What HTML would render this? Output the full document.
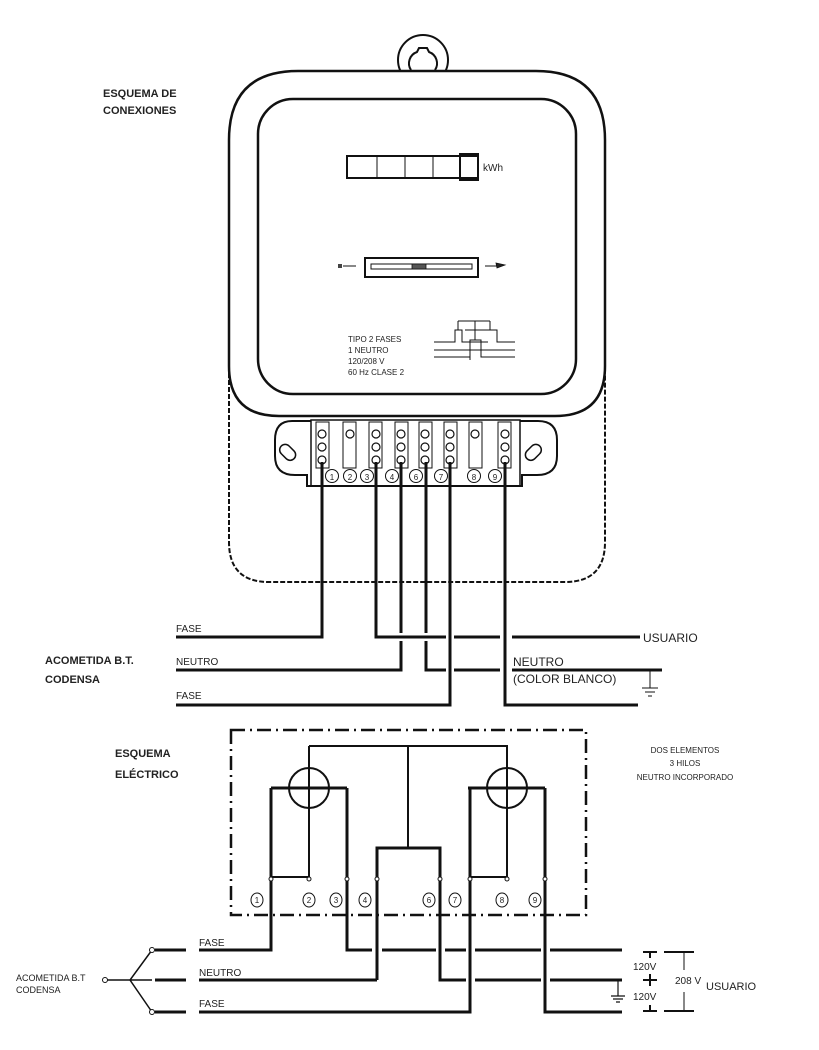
<!DOCTYPE html>
<html><head><meta charset="utf-8"><style>
html,body{margin:0;padding:0;background:#fff}
svg{display:block}
text{font-family:"Liberation Sans",sans-serif;fill:#222}
</style></head><body>
<svg width="819" height="1050" viewBox="0 0 819 1050" xmlns="http://www.w3.org/2000/svg">
<g fill="none" stroke="#111">
<circle cx="423" cy="60" r="25" stroke-width="2"/>
<path d="M411 70 A12 12 0 0 1 417 52 L419 48 L427 48 L429 52 A12 12 0 0 1 435 70" stroke-width="2"/>
<path d="M229 360 L229 140 Q229 71 298 71 L536 71 Q605 71 605 140 L605 360" stroke-width="2.5" fill="#fff"/>
<path d="M229 360 L229 366 Q229 416 279 416 L555 416 Q605 416 605 366 L605 360" stroke-width="2.5"/>
<path d="M229 366 L229 542 Q229 582 269 582 L565 582 Q605 582 605 542 L605 366" stroke-width="2" stroke-dasharray="5 2"/>
<rect x="258" y="99" width="318" height="295" rx="35" stroke-width="2.5"/>
<rect x="347" y="156" width="131" height="22" stroke-width="2"/>
<line x1="377" y1="156" x2="377" y2="178" stroke-width="1"/>
<line x1="405" y1="156" x2="405" y2="178" stroke-width="1"/>
<line x1="433" y1="156" x2="433" y2="178" stroke-width="1"/>
<rect x="460" y="154" width="18" height="26" stroke-width="2"/>
<rect x="365" y="258" width="113" height="19" stroke-width="2"/>
<rect x="371" y="264" width="101" height="5" stroke-width="1"/>
<rect x="412" y="264" width="14" height="5" fill="#555" stroke-width="0.8"/>
<rect x="338" y="264" width="4" height="4" fill="#444" stroke="none"/>
<line x1="343" y1="266" x2="356" y2="266" stroke-width="1"/>
<line x1="485" y1="266" x2="500" y2="266" stroke-width="1"/>
<path d="M496 263 L505 265 L497 268 Z" fill="#222" stroke-width="0.8"/>
<g stroke-width="1">
<path d="M434 342 L455 342 L455 330 L462 330 L462 342 L488 342 M465 330 L497 330 L497 342 L515 342"/>
<path d="M458 321 L490 321 M458 321 L458 330 M490 321 L490 330 M475 321 L475 340"/>
<path d="M434 350 L515 350 M434 357 L470 357 L470 340 L481 340 L481 357 L515 357 M470 340 L470 360"/>
</g>
<path d="M311 421 L292 421 Q275 421 275 440 L275 456 Q275 475 295 475 L307 475 L307 486 L522 486 L522 475 L537 475 Q557 475 557 456 L557 440 Q557 421 538 421 L520 421" stroke-width="2" fill="#fff"/>
<rect x="311" y="420" width="209" height="66" stroke-width="1.5"/>
<rect x="279" y="447" width="18" height="11" rx="5.5" transform="rotate(45 288 452)" stroke-width="1.5"/>
<rect x="524" y="447" width="18" height="11" rx="5.5" transform="rotate(-45 533 452)" stroke-width="1.5"/>
<g stroke-width="1">
<rect x="316" y="422" width="13" height="46"/><rect x="343" y="422" width="13" height="46"/>
<rect x="369" y="422" width="13" height="46"/><rect x="395" y="422" width="13" height="46"/>
<rect x="419" y="422" width="13" height="46"/><rect x="444" y="422" width="13" height="46"/>
<rect x="469" y="422" width="13" height="46"/><rect x="498" y="422" width="13" height="46"/>
</g>
<g stroke-width="1.2">
<circle cx="322" cy="434" r="4"/><circle cx="322" cy="447" r="4"/><circle cx="322" cy="460" r="4"/>
<circle cx="350" cy="434" r="4"/>
<circle cx="376" cy="434" r="4"/><circle cx="376" cy="447" r="4"/><circle cx="376" cy="460" r="4"/>
<circle cx="401" cy="434" r="4"/><circle cx="401" cy="447" r="4"/><circle cx="401" cy="460" r="4"/>
<circle cx="425" cy="434" r="4"/><circle cx="425" cy="447" r="4"/><circle cx="425" cy="460" r="4"/>
<circle cx="450" cy="434" r="4"/><circle cx="450" cy="447" r="4"/><circle cx="450" cy="460" r="4"/>
<circle cx="475" cy="434" r="4"/>
<circle cx="505" cy="434" r="4"/><circle cx="505" cy="447" r="4"/><circle cx="505" cy="460" r="4"/>
</g>
<g stroke-width="1">
<circle cx="332" cy="476" r="6.5"/><circle cx="350" cy="476" r="6.5"/><circle cx="367" cy="476" r="6.5"/>
<circle cx="392" cy="476" r="6.5"/><circle cx="416" cy="476" r="6.5"/><circle cx="441" cy="476" r="6.5"/>
<circle cx="474" cy="476" r="6.5"/><circle cx="495" cy="476" r="6.5"/>
</g>
<g stroke-width="3">
<path d="M322 462 L322 637 L176 637"/>
<path d="M376 462 L376 637 L446 637 M454 637 L500 637 M512 637 L640 637"/>
<path d="M401 462 L401 633 M401 641 L401 670 L176 670"/>
<path d="M426 462 L426 633 M426 641 L426 670 L446 670 M454 670 L500 670 M512 670 L662 670"/>
<path d="M450 462 L450 705 L176 705"/>
<path d="M505 462 L505 705 L638 705"/>
</g>
<path d="M650 670 L650 688 M642 688 L658 688 M645 692 L655 692 M648 696 L652 696" stroke-width="1"/>
<rect x="231" y="730" width="355" height="185" stroke-width="2.5" stroke-dasharray="14 5 2 5"/>
<g stroke-width="2">
<circle cx="309" cy="788" r="20"/>
<circle cx="507" cy="788" r="20"/>
<path d="M309 746 L508 746 M309 746 L309 879 M507 746 L507 879 M408 746 L408 848"/>
<path d="M309 877 L271 877 M507 877 L470 877"/>
</g>
<g stroke-width="3">
<path d="M271 788 L347 788 M468 788 L545 788"/>
<path d="M271 788 L271 950 L199 950"/>
<path d="M347 788 L347 950 L372 950 M382 950 L436 950 M445 950 L466 950 M475 950 L541 950 M550 950 L622 950"/>
<path d="M377 980 L377 848 L440 848 L440 980 L466 980 M475 980 L541 980 M550 980 L622 980"/>
<path d="M377 980 L199 980"/>
<path d="M470 788 L470 1012 L199 1012"/>
<path d="M545 788 L545 1012 L622 1012"/>
<path d="M155 950 L186 950 M155 980 L186 980 M155 1012 L186 1012"/>
</g>
<g stroke-width="1.5">
<path d="M152 950 L130 980 L152 1012 M105 980 L152 980"/>
</g>
<g stroke-width="1" fill="#fff">
<circle cx="152" cy="950" r="2.5"/><circle cx="152" cy="1012" r="2.5"/><circle cx="105" cy="980" r="2.5"/>
<circle cx="271" cy="879" r="2"/><circle cx="309" cy="879" r="2"/><circle cx="347" cy="879" r="2"/>
<circle cx="377" cy="879" r="2"/><circle cx="440" cy="879" r="2"/><circle cx="470" cy="879" r="2"/>
<circle cx="507" cy="879" r="2"/><circle cx="545" cy="879" r="2"/>
<ellipse cx="257" cy="900" rx="6" ry="7"/><ellipse cx="309" cy="900" rx="6" ry="7"/>
<ellipse cx="336" cy="900" rx="6" ry="7"/><ellipse cx="365" cy="900" rx="6" ry="7"/>
<ellipse cx="429" cy="900" rx="6" ry="7"/><ellipse cx="455" cy="900" rx="6" ry="7"/>
<ellipse cx="502" cy="900" rx="6" ry="7"/><ellipse cx="535" cy="900" rx="6" ry="7"/>
</g>
<path d="M618 980 L618 996 M611 996 L625 996 M613 999 L623 999 M616 1002 L620 1002" stroke-width="1.2"/>
<g stroke-width="2">
<path d="M643 952 L657 952 M643 1011 L657 1011 M643 980 L657 980 M650 952 L650 958 M650 974 L650 986 M650 1005 L650 1011"/>
<path d="M664 952 L694 952 M664 1011 L694 1011"/>
</g>
<path d="M684 952 L684 970 M684 992 L684 1011" stroke-width="1"/>
</g>
<g font-size="8" fill="#222">
<text x="348" y="342">TIPO 2 FASES</text>
<text x="348" y="353">1 NEUTRO</text>
<text x="348" y="364">120/208 V</text>
<text x="348" y="375">60 Hz CLASE 2</text>
</g>
<text x="483" y="171" font-size="10">kWh</text>
<g font-size="8" fill="#333">
<text x="332" y="480" text-anchor="middle">1</text><text x="350" y="480" text-anchor="middle">2</text>
<text x="367" y="480" text-anchor="middle">3</text><text x="392" y="480" text-anchor="middle">4</text>
<text x="416" y="480" text-anchor="middle">6</text><text x="441" y="480" text-anchor="middle">7</text>
<text x="474" y="480" text-anchor="middle">8</text><text x="495" y="480" text-anchor="middle">9</text>
<text x="257" y="903" text-anchor="middle">1</text><text x="309" y="903" text-anchor="middle">2</text>
<text x="336" y="903" text-anchor="middle">3</text><text x="365" y="903" text-anchor="middle">4</text>
<text x="429" y="903" text-anchor="middle">6</text><text x="455" y="903" text-anchor="middle">7</text>
<text x="502" y="903" text-anchor="middle">8</text><text x="535" y="903" text-anchor="middle">9</text>
</g>
<g font-size="11" font-weight="bold" fill="#111">
<text x="103" y="97">ESQUEMA DE</text>
<text x="103" y="114">CONEXIONES</text>
<text x="45" y="664">ACOMETIDA B.T.</text>
<text x="45" y="683">CODENSA</text>
<text x="115" y="757">ESQUEMA</text>
<text x="115" y="778">ELÉCTRICO</text>
</g>
<g font-size="10" fill="#333">
<text x="176" y="632">FASE</text>
<text x="176" y="665">NEUTRO</text>
<text x="176" y="699">FASE</text>
<text x="199" y="946">FASE</text>
<text x="199" y="976">NEUTRO</text>
<text x="199" y="1007">FASE</text>
<text x="16" y="981" font-size="9">ACOMETIDA B.T</text>
<text x="16" y="993" font-size="9">CODENSA</text>
<text x="633" y="970">120V</text>
<text x="633" y="1000">120V</text>
<text x="675" y="984">208  V</text>
<text x="706" y="990" font-size="11">USUARIO</text>
</g>
<g font-size="12" fill="#111">
<text x="643" y="642">USUARIO</text>
<text x="513" y="666">NEUTRO</text>
<text x="513" y="683">(COLOR BLANCO)</text>
</g>
<g font-size="8" fill="#333" text-anchor="middle">
<text x="685" y="753">DOS ELEMENTOS</text>
<text x="685" y="766">3 HILOS</text>
<text x="685" y="780">NEUTRO INCORPORADO</text>
</g>
</svg>
</body></html>
